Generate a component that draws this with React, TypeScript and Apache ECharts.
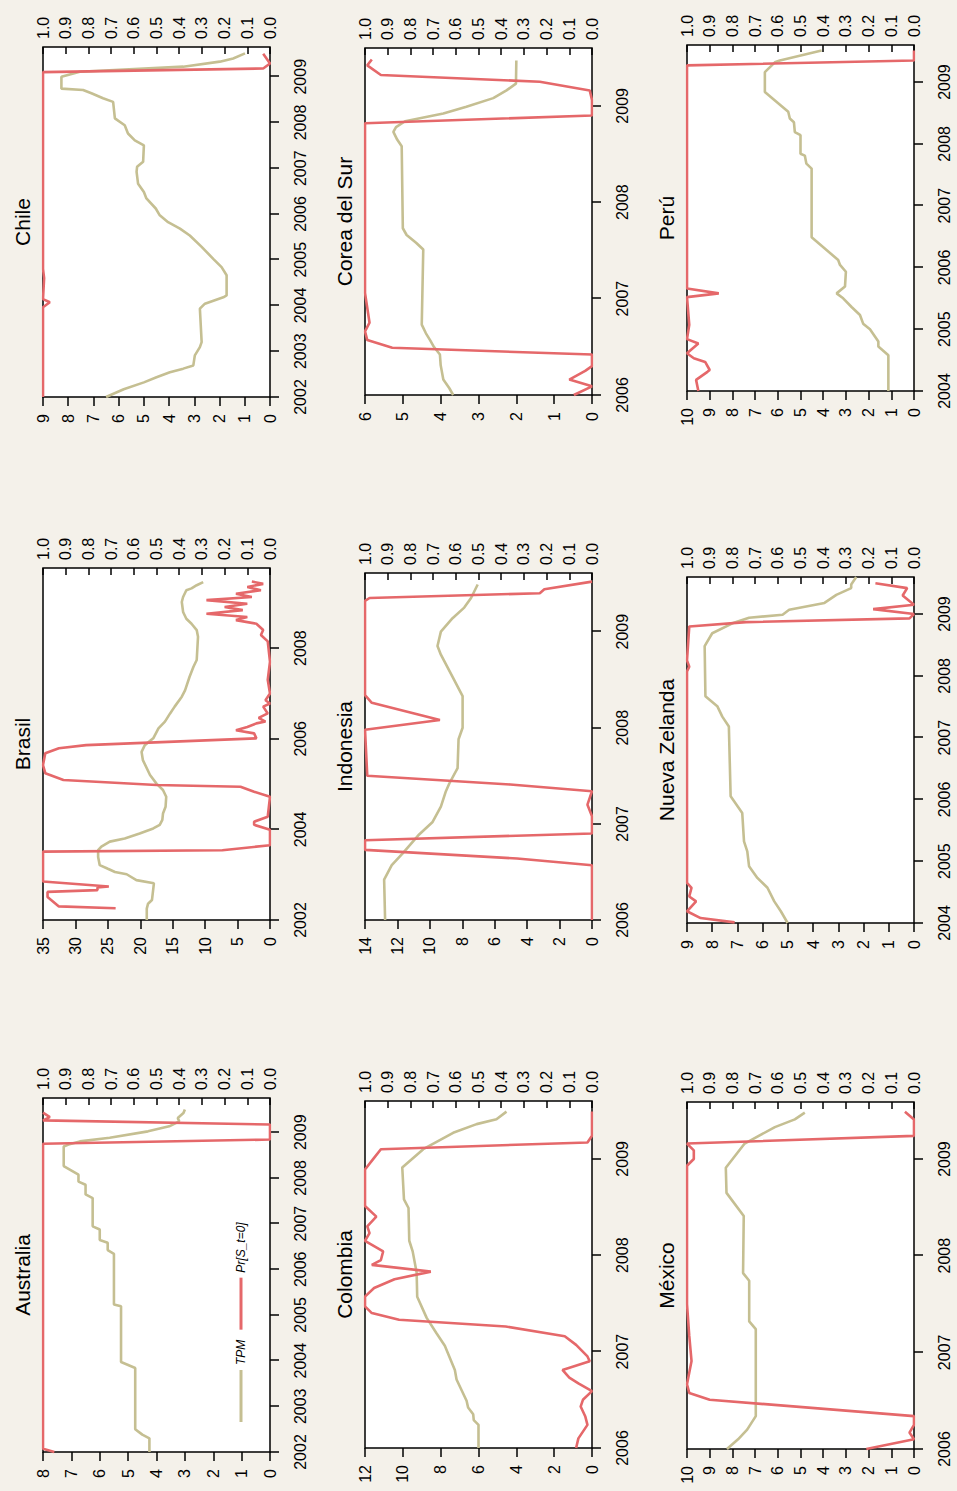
import React, { useEffect, useRef } from 'react';
import * as echarts from 'echarts';

type Pt = [number, number];

// ---------- data (year, value) ----------
const YEARS_02 = [2002, 2003, 2004, 2005, 2006, 2007, 2008, 2009];
const YEARS_BRA = [2002, 2004, 2006, 2008];
const YEARS_04 = [2004, 2005, 2006, 2007, 2008, 2009];
const YEARS_06 = [2006, 2007, 2008, 2009];

const AUS_TPM: Pt[] = [[2002.0,4.25],[2002.3,4.25],[2002.38,4.5],[2002.5,4.75],[2003.84,4.75],[2003.97,5.25],[2005.19,5.25],[2005.23,5.5],[2006.34,5.5],[2006.42,5.72],[2006.58,5.72],[2006.64,6.0],[2006.87,6.0],[2006.94,6.25],[2007.56,6.25],[2007.64,6.5],[2007.85,6.5],[2007.92,6.75],[2008.07,6.75],[2008.26,7.27],[2008.69,7.27],[2008.73,7.1],[2008.8,6.7],[2008.88,5.65],[2009.02,4.3],[2009.13,3.55],[2009.24,3.2],[2009.31,3.25],[2009.42,3.05],[2009.5,3.0]];
const AUS_PR: Pt[] = [[2002.0,0.95],[2002.07,1.0],[2008.75,1.0],[2008.84,0.0],[2009.17,0.0],[2009.26,1.0],[2009.33,0.97],[2009.43,1.0]];

const BRA_TPM: Pt[] = [[2002.0,19.0],[2002.25,19.0],[2002.36,18.8],[2002.44,18.2],[2002.81,17.9],[2002.88,20.6],[2003.01,22.1],[2003.06,23.9],[2003.13,25.0],[2003.21,26.25],[2003.39,26.5],[2003.54,26.5],[2003.62,26.0],[2003.73,24.7],[2003.8,22.4],[2003.91,20.1],[2004.02,18.0],[2004.1,17.0],[2004.21,16.6],[2004.35,16.5],[2004.5,16.1],[2004.72,16.0],[2004.87,16.5],[2005.01,17.5],[2005.2,18.5],[2005.53,19.6],[2005.71,19.8],[2005.86,19.3],[2006.01,18.0],[2006.23,17.2],[2006.38,16.2],[2006.56,15.4],[2006.71,14.7],[2006.93,13.6],[2007.07,13.1],[2007.37,12.4],[2007.59,11.8],[2007.74,11.3],[2008.25,11.1],[2008.4,11.3],[2008.54,12.1],[2008.65,12.9],[2008.8,13.4],[2009.02,13.6],[2009.13,13.4],[2009.28,12.9],[2009.32,12.1],[2009.39,11.3],[2009.46,10.3]];
const BRA_PR: Pt[] = [[2002.26,0.68],[2002.3,0.93],[2002.51,0.98],[2002.62,0.98],[2002.66,0.76],[2002.72,0.76],[2002.74,0.71],[2002.85,1.0],[2003.51,1.0],[2003.54,0.21],[2003.65,0.0],[2003.99,0.0],[2004.1,0.07],[2004.17,0.07],[2004.28,0.01],[2004.72,0.0],[2004.83,0.07],[2004.94,0.13],[2004.98,0.5],[2005.09,0.91],[2005.24,0.99],[2005.42,1.0],[2005.68,0.99],[2005.79,0.93],[2005.86,0.81],[2006.01,0.06],[2006.12,0.07],[2006.19,0.15],[2006.26,0.1],[2006.34,0.06],[2006.38,0.02],[2006.46,0.05],[2006.56,0.01],[2006.71,0.03],[2006.78,0.0],[2006.85,0.02],[2007.0,0.0],[2007.3,0.01],[2007.7,0.0],[2008.15,0.01],[2008.29,0.04],[2008.4,0.03],[2008.54,0.06],[2008.62,0.15],[2008.69,0.1],[2008.76,0.28],[2008.84,0.12],[2008.91,0.2],[2008.98,0.1],[2009.06,0.28],[2009.13,0.08],[2009.2,0.15],[2009.28,0.04],[2009.35,0.1],[2009.42,0.03],[2009.47,0.08]];

const CHL_TPM: Pt[] = [[2002.0,6.5],[2002.17,5.8],[2002.32,5.0],[2002.43,4.5],[2002.54,3.97],[2002.62,3.44],[2002.69,3.04],[2002.91,2.98],[2003.09,2.78],[2003.2,2.71],[2003.93,2.78],[2004.04,2.58],[2004.18,1.85],[2004.22,1.72],[2004.66,1.72],[2004.84,1.92],[2005.02,2.25],[2005.28,2.71],[2005.53,3.18],[2005.68,3.57],[2005.82,4.04],[2005.97,4.37],[2006.12,4.53],[2006.34,4.9],[2006.48,5.0],[2006.66,5.23],[2006.92,5.29],[2007.03,5.27],[2007.14,5.03],[2007.5,5.0],[2007.61,5.36],[2007.76,5.63],[2007.94,5.76],[2008.09,6.15],[2008.45,6.22],[2008.53,6.62],[2008.64,7.08],[2008.71,7.41],[2008.74,8.27],[2009.0,8.27],[2009.11,7.54],[2009.22,3.44],[2009.33,1.99],[2009.4,1.46],[2009.51,0.99]];
const CHL_PR: Pt[] = [[2002.0,1.0],[2003.96,1.0],[2004.07,0.97],[2004.14,1.0],[2004.6,0.995],[2004.8,1.0],[2009.1,1.0],[2009.18,0.03],[2009.29,0.0],[2009.5,0.03]];

const COL_TPM: Pt[] = [[2006.0,6.0],[2006.24,6.0],[2006.29,6.25],[2006.35,6.28],[2006.42,6.55],[2006.49,6.63],[2006.71,7.16],[2006.81,7.25],[2007.06,7.78],[2007.19,8.22],[2007.35,8.74],[2007.57,9.24],[2007.82,9.27],[2008.04,9.48],[2008.15,9.66],[2008.49,9.7],[2008.58,9.94],[2008.91,10.03],[2009.1,8.92],[2009.27,7.34],[2009.36,6.1],[2009.41,5.05],[2009.49,4.52]];
const COL_PR: Pt[] = [[2006.0,0.07],[2006.1,0.06],[2006.24,0.02],[2006.33,0.03],[2006.43,0.05],[2006.5,0.04],[2006.59,0.0],[2006.67,0.06],[2006.73,0.1],[2006.81,0.13],[2006.9,0.01],[2006.95,0.02],[2007.07,0.07],[2007.16,0.12],[2007.26,0.38],[2007.33,0.85],[2007.4,0.97],[2007.47,1.0],[2007.57,1.0],[2007.66,0.96],[2007.75,0.87],[2007.83,0.71],[2007.9,0.97],[2007.95,0.93],[2008.04,0.92],[2008.15,1.0],[2008.23,0.98],[2008.3,0.99],[2008.4,0.95],[2008.51,1.0],[2008.89,1.0],[2009.01,0.96],[2009.1,0.93],[2009.17,0.02],[2009.24,0.0],[2009.49,0.0]];

const IDN_TPM: Pt[] = [[2006.0,12.76],[2006.42,12.82],[2006.57,12.35],[2006.69,11.69],[2006.89,10.66],[2007.02,9.83],[2007.18,9.32],[2007.34,9.01],[2007.42,8.8],[2007.58,8.29],[2007.88,8.23],[2008.0,7.98],[2008.33,7.98],[2008.53,8.6],[2008.76,9.32],[2008.85,9.53],[2009.0,9.32],[2009.14,8.6],[2009.25,7.88],[2009.35,7.46],[2009.49,7.05]];
const IDN_PR: Pt[] = [[2006.0,0.0],[2006.57,0.0],[2006.64,0.33],[2006.73,1.0],[2006.83,1.0],[2006.9,0.0],[2007.08,0.0],[2007.2,0.02],[2007.34,0.0],[2007.41,0.36],[2007.5,0.99],[2007.98,1.0],[2008.08,0.67],[2008.26,0.97],[2008.34,1.0],[2009.32,1.0],[2009.35,0.98],[2009.4,0.23],[2009.44,0.21],[2009.52,0.0]];

const KOR_TPM: Pt[] = [[2006.0,3.67],[2006.07,3.77],[2006.16,3.93],[2006.31,4.0],[2006.42,4.02],[2006.5,4.18],[2006.57,4.28],[2006.64,4.39],[2006.73,4.5],[2007.51,4.46],[2007.58,4.65],[2007.66,4.9],[2007.73,5.0],[2008.58,5.03],[2008.65,5.15],[2008.73,5.25],[2008.78,5.18],[2008.84,4.94],[2008.92,3.93],[2008.99,3.32],[2009.08,2.61],[2009.16,2.26],[2009.23,2.01],[2009.47,2.0]];
const KOR_PR: Pt[] = [[2006.0,0.08],[2006.09,0.0],[2006.16,0.1],[2006.25,0.03],[2006.3,0.0],[2006.42,0.0],[2006.49,0.88],[2006.57,0.99],[2006.66,1.0],[2006.75,0.98],[2007.06,1.0],[2008.82,1.0],[2008.9,0.0],[2009.06,0.0],[2009.16,0.01],[2009.25,0.23],[2009.32,0.93],[2009.42,0.99],[2009.48,0.97]];

const MEX_TPM: Pt[] = [[2006.0,8.24],[2006.1,7.75],[2006.2,7.35],[2006.34,6.97],[2007.24,6.97],[2007.32,7.26],[2007.74,7.26],[2007.82,7.53],[2008.41,7.5],[2008.65,8.26],[2008.91,8.29],[2009.16,7.46],[2009.33,6.13],[2009.41,5.25],[2009.48,4.81]];
const MEX_PR: Pt[] = [[2006.0,0.21],[2006.1,0.0],[2006.17,0.02],[2006.25,0.0],[2006.34,0.0],[2006.51,0.9],[2006.58,0.99],[2006.67,1.0],[2006.91,0.98],[2007.17,0.99],[2007.5,1.0],[2008.93,1.0],[2009.0,0.97],[2009.09,0.97],[2009.16,1.0],[2009.24,0.0],[2009.41,0.0],[2009.49,0.04]];

const NZL_TPM: Pt[] = [[2004.0,5.01],[2004.19,5.28],[2004.35,5.54],[2004.57,5.81],[2004.73,6.21],[2004.92,6.54],[2005.16,6.61],[2005.32,6.74],[2005.78,6.81],[2006.05,7.27],[2007.18,7.34],[2007.34,7.6],[2007.51,7.8],[2007.67,8.27],[2008.48,8.3],[2008.69,8.0],[2008.85,7.2],[2008.94,6.54],[2008.99,5.21],[2009.07,4.95],[2009.18,3.55],[2009.31,3.08],[2009.42,2.49],[2009.48,2.49],[2009.6,2.29]];
const NZL_PR: Pt[] = [[2004.01,0.79],[2004.08,0.94],[2004.19,1.0],[2004.35,0.96],[2004.43,0.99],[2004.57,0.98],[2004.65,1.0],[2008.07,1.0],[2008.15,0.99],[2008.25,1.0],[2008.8,0.99],[2008.87,0.74],[2008.93,0.02],[2009.0,0.0],[2009.08,0.18],[2009.15,0.0],[2009.3,0.05],[2009.42,0.03],[2009.5,0.17]];

const PER_TPM: Pt[] = [[2004.0,1.13],[2004.58,1.13],[2004.72,1.57],[2004.8,1.57],[2005.0,1.94],[2005.09,2.24],[2005.23,2.38],[2005.36,2.75],[2005.5,3.12],[2005.58,3.41],[2005.69,3.04],[2005.93,3.0],[2006.04,3.26],[2006.12,3.34],[2006.49,4.51],[2007.6,4.51],[2007.68,4.74],[2007.81,4.81],[2007.84,5.0],[2008.14,5.0],[2008.19,5.25],[2008.35,5.29],[2008.41,5.47],[2008.52,5.54],[2008.84,6.57],[2009.16,6.57],[2009.32,6.13],[2009.35,5.91],[2009.51,4.07]];
const PER_PR: Pt[] = [[2004.0,0.95],[2004.18,0.96],[2004.31,0.91],[2004.34,0.9],[2004.47,0.92],[2004.53,0.97],[2004.61,1.0],[2004.77,0.95],[2004.84,1.0],[2005.07,0.99],[2005.52,1.0],[2005.58,0.86],[2005.66,1.0],[2009.27,1.0],[2009.35,0.0],[2009.51,0.0]];

const SERIES_NAMES = ['TPM', 'Pr[S_t=0]'];

// ---------- layout / style ----------
const FONT = "'Liberation Sans', Arial, sans-serif";
const RED = '#E5686A';
const TAN = '#C5BF92';
const BG = '#F4F1EA';

interface Panel {
  title: string; tpm: Pt[]; pr: Pt[]; years: number[];
  xMin: number; xMax: number; tpmMax: number; tpmStep: number;
  box: [number, number, number, number];
}

const PANELS: Panel[] = [
  { title: 'Australia', tpm: AUS_TPM, pr: AUS_PR, years: YEARS_02, xMin: 2002, xMax: 2009.75, tpmMax: 8, tpmStep: 1, box: [39, 43, 354, 227] },
  { title: 'Brasil', tpm: BRA_TPM, pr: BRA_PR, years: YEARS_BRA, xMin: 2002, xMax: 2009.77, tpmMax: 35, tpmStep: 5, box: [571, 43, 352, 227] },
  { title: 'Chile', tpm: CHL_TPM, pr: CHL_PR, years: YEARS_02, xMin: 2002, xMax: 2009.65, tpmMax: 9, tpmStep: 1, box: [1094, 43, 350, 227] },
  { title: 'Colombia', tpm: COL_TPM, pr: COL_PR, years: YEARS_06, xMin: 2006, xMax: 2009.6, tpmMax: 12, tpmStep: 2, box: [43, 365, 347, 227] },
  { title: 'Indonesia', tpm: IDN_TPM, pr: IDN_PR, years: YEARS_06, xMin: 2006, xMax: 2009.61, tpmMax: 14, tpmStep: 2, box: [571, 365, 347, 227] },
  { title: 'Corea del Sur', tpm: KOR_TPM, pr: KOR_PR, years: YEARS_06, xMin: 2006, xMax: 2009.6, tpmMax: 6, tpmStep: 1, box: [1096, 365, 347, 227] },
  { title: 'México', tpm: MEX_TPM, pr: MEX_PR, years: YEARS_06, xMin: 2006, xMax: 2009.59, tpmMax: 10, tpmStep: 1, box: [42, 687, 347, 227] },
  { title: 'Nueva Zelanda', tpm: NZL_TPM, pr: NZL_PR, years: YEARS_04, xMin: 2004, xMax: 2009.6, tpmMax: 9, tpmStep: 1, box: [568, 687, 346, 227] },
  { title: 'Perú', tpm: PER_TPM, pr: PER_PR, years: YEARS_04, xMin: 2004, xMax: 2009.6, tpmMax: 10, tpmStep: 1, box: [1100, 687, 346, 227] },
];

const LABEL = { fontFamily: FONT, fontSize: 16, color: '#000' };
const TICK_LINE = { color: '#000', width: 1.5 };

function buildOption(): any {
  const grid = PANELS.map((p) => ({
    left: p.box[0], top: p.box[1], width: p.box[2], height: p.box[3],
    show: true, backgroundColor: '#fff', borderColor: '#000', borderWidth: 1.5,
  }));
  const xAxis = PANELS.map((p, i) => ({
    type: 'value', gridIndex: i, min: p.xMin, max: p.xMax,
    splitLine: { show: false }, axisLine: { show: false },
    axisTick: { show: true, inside: false, length: 9, customValues: p.years, lineStyle: TICK_LINE },
    axisLabel: { ...LABEL, customValues: p.years, margin: 22, formatter: (v: number) => String(Math.round(v)) },
  }));
  const yAxis: any[] = [];
  const series: any[] = [];
  PANELS.forEach((p, i) => {
    yAxis.push({
      type: 'value', gridIndex: i, position: 'left', min: 0, max: p.tpmMax, interval: p.tpmStep,
      splitLine: { show: false }, axisLine: { show: false },
      axisTick: { show: true, inside: false, length: 9, lineStyle: TICK_LINE },
      axisLabel: { ...LABEL, margin: 17 },
    });
    yAxis.push({
      type: 'value', gridIndex: i, position: 'right', min: 0, max: 1, interval: 0.1,
      splitLine: { show: false }, axisLine: { show: false },
      axisTick: { show: true, inside: true, length: 7, lineStyle: TICK_LINE },
      axisLabel: { ...LABEL, margin: 8, formatter: (v: number) => v.toFixed(1) },
    });
    series.push({
      type: 'line', name: SERIES_NAMES[0], xAxisIndex: i, yAxisIndex: 2 * i, data: p.tpm,
      symbol: 'none', showSymbol: false, lineStyle: { color: TAN, width: 2.6 }, itemStyle: { color: TAN }, z: 2,
    });
    series.push({
      type: 'line', name: SERIES_NAMES[1], xAxisIndex: i, yAxisIndex: 2 * i + 1, data: p.pr,
      symbol: 'none', showSymbol: false, lineStyle: { color: RED, width: 2.6 }, itemStyle: { color: RED }, z: 3,
    });
  });
  const graphic = PANELS.map((p) => ({
    type: 'text', x: p.box[0] + p.box[2] / 2, y: p.box[1] - 10,
    style: { text: p.title, fill: '#000', fontFamily: FONT, fontSize: 21, align: 'center', verticalAlign: 'bottom' },
  }));
  return {
    animation: false,
    backgroundColor: BG,
    grid, xAxis, yAxis, series, graphic,
    legend: {
      show: true, data: SERIES_NAMES, left: 64, top: 230, orient: 'horizontal', icon: 'rect',
      itemWidth: 52, itemHeight: 3, itemGap: 10, selectedMode: false,
      textStyle: { fontFamily: FONT, fontStyle: 'italic', fontSize: 12, color: '#000' },
    },
  };
}

export default function App() {
  const ref = useRef<HTMLDivElement>(null);
  useEffect(() => {
    if (!ref.current) return;
    const chart = echarts.init(ref.current, undefined, { renderer: 'svg' });
    chart.setOption(buildOption());
    return () => chart.dispose();
  }, []);
  return (
    <div style={{ position: 'absolute', left: 0, top: 0, width: 957, height: 1491, overflow: 'hidden', background: BG }}>
      <div
        ref={ref}
        style={{
          position: 'absolute', left: 0, top: 0, width: 1491, height: 957,
          transformOrigin: '0 0', transform: 'translate(0px, 1491px) rotate(-90deg)',
        }}
      />
    </div>
  );
}
